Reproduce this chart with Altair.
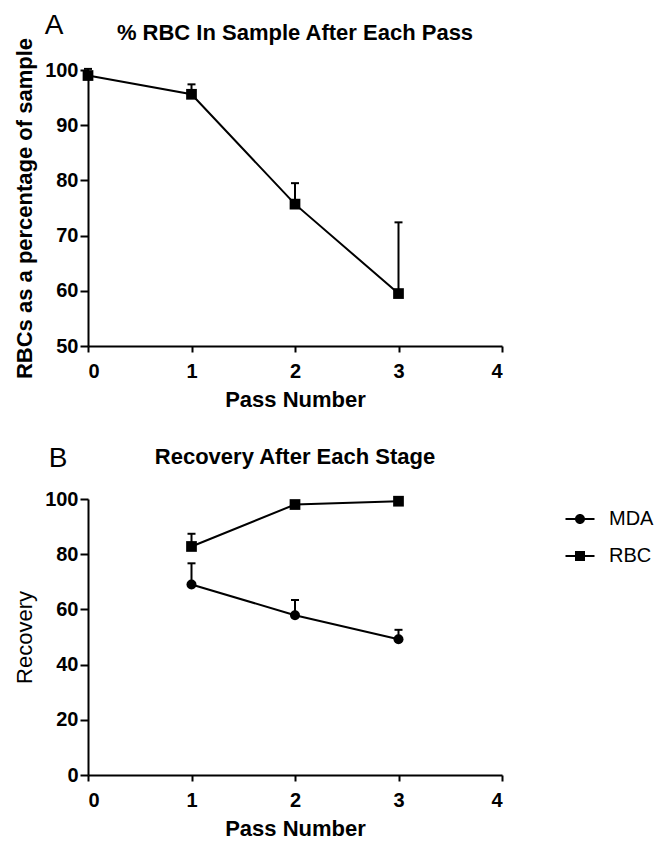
import altair as alt
import pandas as pd

FONT = "Liberation Sans"

# Panel A: % RBC in sample after each pass
pass_a = [0, 1, 2, 3]
rbc_pct = [99.0, 95.6, 75.7, 59.5]
rbc_pct_top = [100.2, 97.4, 79.5, 72.4]

# Panel B: recovery after each stage
pass_b = [1, 2, 3]
mda_rec = [69.0, 57.9, 49.2]
mda_rec_top = [76.7, 63.4, 52.6]
rbc_rec = [82.8, 98.0, 99.2]
rbc_rec_top = [87.4, 98.0, 99.2]
series_names = ["MDA", "RBC"]

x_ticks = [0, 1, 2, 3, 4]
y_ticks_a = [50, 60, 70, 80, 90, 100]
y_ticks_b = [0, 20, 40, 60, 80, 100]

title_a = ["% RBC In Sample After Each Pass"]
title_b = ["Recovery After Each Stage"]

df_a = pd.DataFrame({"pass": pass_a, "value": rbc_pct, "top": rbc_pct_top})
df_b = pd.DataFrame({
    "pass": pass_b * 2,
    "value": mda_rec + rbc_rec,
    "top": mda_rec_top + rbc_rec_top,
    "series": ["MDA"] * 3 + ["RBC"] * 3,
})

W, H = 414, 276

circle_path = ("M-1.45,-0.1H-0.45V0.1H-1.45Z M0.45,-0.1H1.45V0.1H0.45Z "
               "M0.5,0A0.5,0.5 0 1,1 -0.5,0A0.5,0.5 0 1,1 0.5,0Z")
square_path = ("M-1.45,-0.1H-0.45V0.1H-1.45Z M0.45,-0.1H1.45V0.1H0.45Z "
               "M-0.5,-0.5H0.5V0.5H-0.5Z")


def x_enc():
    return alt.X("pass:Q", scale=alt.Scale(domain=[0, 4], nice=False),
                 axis=alt.Axis(values=x_ticks, format="d", title="Pass Number",
                               tickSize=6, labelPadding=9, titlePadding=8))


def text_layer(txt, size, weight, x, y):
    return alt.Chart(pd.DataFrame({"t": txt})).mark_text(
        font=FONT, fontSize=size, fontWeight=weight, color="black",
        align="center", baseline="alphabetic"
    ).encode(text="t:N", x=alt.value(x), y=alt.value(y))


# ---------- Panel A ----------
ya = alt.Y("value:Q", scale=alt.Scale(domain=[50, 100], nice=False, zero=False),
           axis=alt.Axis(values=y_ticks_a, title="RBCs as a percentage of sample",
                         tickSize=8, labelPadding=2, titlePadding=8))

base_a = alt.Chart(df_a)
a_err = base_a.mark_rule(color="black", strokeWidth=2).encode(x=x_enc(), y=ya, y2="top:Q")
a_cap = base_a.mark_rule(color="black", strokeWidth=2, xOffset=-4, x2Offset=4).encode(
    x=x_enc(), x2="pass:Q", y=alt.Y("top:Q"))
a_line = base_a.mark_line(color="black", strokeWidth=2).encode(x=x_enc(), y=ya)
a_pts = base_a.mark_point(shape="square", filled=True, size=115, color="black", opacity=1).encode(
    x=x_enc(), y=ya)
a_letter = text_layer(["A"], 28, "normal", -34, -36)
a_title = text_layer(title_a, 22, "bold", W / 2, -30)

panel_a = alt.layer(a_err, a_cap, a_line, a_pts, a_letter, a_title).properties(width=W, height=H)

# ---------- Panel B ----------
yb = alt.Y("value:Q", scale=alt.Scale(domain=[0, 100], nice=False),
           axis=alt.Axis(values=y_ticks_b, title="Recovery", titleFontWeight="normal",
                         tickSize=8, labelPadding=2, titlePadding=8))

base_b = alt.Chart(df_b)
b_err = base_b.mark_rule(color="black", strokeWidth=2).encode(x=x_enc(), y=yb, y2="top:Q")
b_cap = base_b.mark_rule(color="black", strokeWidth=2, xOffset=-4, x2Offset=4).encode(
    x=x_enc(), x2="pass:Q", y=alt.Y("top:Q"))
b_line = base_b.mark_line(color="black", strokeWidth=2).encode(x=x_enc(), y=yb, detail="series:N")
b_circ = base_b.transform_filter(alt.datum.series == "MDA").mark_point(
    shape="circle", filled=True, size=100, color="black", opacity=1).encode(x=x_enc(), y=yb)
b_sq = base_b.transform_filter(alt.datum.series == "RBC").mark_point(
    shape="square", filled=True, size=115, color="black", opacity=1).encode(x=x_enc(), y=yb)
b_legend = base_b.transform_filter("datum.value < -1000").mark_point(
    filled=True, color="black", opacity=1).encode(
    x=x_enc(), y=yb,
    shape=alt.Shape("series:N",
                    scale=alt.Scale(domain=series_names, range=[circle_path, square_path]),
                    legend=alt.Legend(title=None, orient="none", legendX=482, legendY=439,
                                      symbolSize=400, symbolFillColor="black",
                                      symbolStrokeWidth=0, labelFont=FONT,
                                      labelFontSize=20, labelColor="black",
                                      labelOffset=19, rowPadding=17, padding=0)))
b_letter = text_layer(["B"], 28, "normal", -30, -32)
b_title = text_layer(title_b, 22, "bold", W / 2, -35)

panel_b = alt.layer(b_err, b_cap, b_line, b_circ, b_sq, b_legend, b_letter, b_title).properties(
    width=W, height=H)

chart = alt.vconcat(panel_a, panel_b, spacing=35).properties(
    padding={"top": 4, "left": 5, "right": 0, "bottom": 0}
).configure(
    font=FONT
).configure_view(stroke=None).configure_axis(
    grid=False, domainColor="black", domainWidth=2, tickColor="black", tickWidth=2,
    labelColor="black", labelFont=FONT, labelFontSize=20, labelFontWeight="bold",
    titleColor="black", titleFont=FONT, titleFontSize=22, titleFontWeight="bold",
)

chart.save("out.html", embed_options={"renderer": "svg", "actions": False})
